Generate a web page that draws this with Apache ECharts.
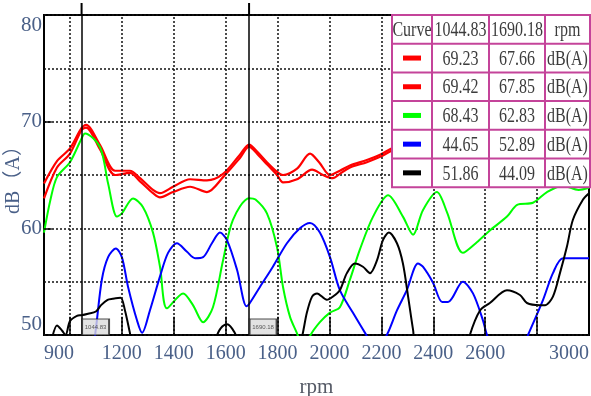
<!DOCTYPE html>
<html>
<head>
<meta charset="utf-8">
<title>rpm dB(A)</title>
<script src="https://cdn.jsdelivr.net/npm/echarts@6/dist/echarts.min.js"></script>
<style>
  html, body { margin: 0; padding: 0; background: #fff; }
  #chart { width: 591px; height: 396px; }
</style>
</head>
<body>
<div id="chart"></div>
<script>
// [rpm, dB(A)]
const redLow = [[900,62.8],[950,65.7],[1000,67.0],[1044.83,69.23],[1062,69.45],[1116,67.4],[1174,65.0],[1231,65.2],[1270,64.4],[1320,63.3],[1347,62.9],[1397,63.4],[1463,63.9],[1528,63.4],[1590,64.8],[1655,66.6],[1690.18,67.66],[1721,67.0],[1759,66.0],[1798,65.0],[1821,64.3],[1875,64.6],[1933,65.5],[1975,65.0],[2013,64.7],[2040,65.1],[2079,65.7],[2144,66.2],[2195,66.7],[2241,67.3],[2320,68.1]];
const redHigh = [[900,64.2],[950,66.3],[1000,67.5],[1044.83,69.42],[1062,69.7],[1116,67.8],[1174,65.4],[1231,65.4],[1270,64.7],[1320,63.6],[1347,63.3],[1397,63.9],[1463,64.6],[1528,64.5],[1590,65.1],[1655,66.9],[1690.18,67.85],[1721,67.2],[1759,66.2],[1798,65.3],[1821,65.0],[1875,65.6],[1925,67.0],[1960,66.2],[2002,65.0],[2040,65.4],[2079,65.9],[2144,66.4],[2195,66.9],[2241,67.5],[2320,68.3]];
const green = [[900,59.6],[925,62.7],[950,64.8],[1000,66.2],[1044.83,68.43],[1058,68.9],[1116,67.6],[1147,64.2],[1181,61.1],[1200,61.4],[1243,62.8],[1281,62.0],[1320,59.6],[1347,56.4],[1374,52.5],[1436,53.9],[1474,52.8],[1513,51.2],[1551,52.6],[1590,57.0],[1628,60.8],[1690.18,62.83],[1715,62.7],[1759,61.4],[1798,58.2],[1821,54.5],[1848,51.7],[1879,49.9],[1900,48.2],[1925,49.9],[1963,51.2],[2002,52.1],[2040,52.6],[2079,55.2],[2117,58.0],[2168,61.1],[2226,63.1],[2283,61.1],[2322,59.4],[2360,61.7],[2414,63.4],[2453,61.5],[2514,57.7],[2568,58.7],[2618,59.8],[2684,61.1],[2723,62.2],[2784,62.4],[2838,63.4],[2900,64.0],[2960,63.6],[3000,63.8]];
const blue = [[900,40.0],[1044.83,44.65],[1085,48.0],[1100,50.6],[1123,55.2],[1147,57.3],[1177,58.1],[1200,57.3],[1224,54.5],[1258,51.4],[1278,50.2],[1308,52.3],[1347,55.5],[1378,57.7],[1412,58.6],[1451,57.8],[1482,57.2],[1513,57.3],[1547,58.6],[1578,59.6],[1605,58.9],[1644,56.1],[1680,52.7],[1690.18,52.89],[1732,54.5],[1782,56.4],[1836,58.6],[1886,60.0],[1925,60.5],[1963,59.6],[2002,57.3],[2040,54.2],[2090,52.1],[2137,50.2],[2180,48.6],[2221,50.0],[2260,52.3],[2298,54.2],[2341,56.7],[2360,56.4],[2399,54.9],[2434,53.1],[2457,53.1],[2514,55.0],[2553,53.9],[2591,51.4],[2607,50.0],[2650,47.5],[2720,47.5],[2765,50.0],[2823,53.3],[2861,55.8],[2900,57.2],[3000,57.2]];
const black = [[900,46.0],[930,49.6],[950,50.9],[970,50.4],[983,50.0],[1000,51.3],[1027,51.8],[1044.83,51.86],[1070,52.0],[1100,52.2],[1120,52.8],[1145,53.3],[1165,53.4],[1195,53.5],[1212,52.3],[1231,50.2],[1260,47.0],[1500,46.0],[1560,49.6],[1580,50.6],[1605,51.0],[1625,50.6],[1645,49.6],[1690.18,44.09],[1850,46.0],[1894,49.8],[1913,52.1],[1933,53.6],[1952,53.9],[1990,53.3],[2013,53.6],[2040,54.2],[2067,55.8],[2098,56.7],[2129,56.4],[2156,55.8],[2183,57.0],[2206,58.9],[2229,59.6],[2260,58.6],[2283,56.7],[2303,53.6],[2322,50.5],[2340,48.0],[2500,46.0],[2541,50.0],[2580,52.3],[2618,53.0],[2684,54.2],[2734,53.75],[2761,53.0],[2811,52.8],[2830,52.8],[2861,53.6],[2888,55.8],[2915,58.3],[2938,60.8],[2977,62.7],[3000,63.3]];

const cursorRpm = [1044.83, 1690.18];
const xLabelValues = [900, 1200, 1400, 1600, 1800, 2000, 2200, 2400, 2600, 3000];
const xGridValues = [1000, 1200, 1400, 1600, 1800, 2000, 2200, 2400, 2600, 2800];
const yLabelValues = [50, 60, 70, 80];
const yTickValues = [60, 70];

// read-out table
const tableHeader = ['Curve', '1044.83', '1690.18', 'rpm'];
const tableAt1 = ['69.23', '69.42', '68.43', '44.65', '51.86'];
const tableAt2 = ['67.66', '67.85', '62.83', '52.89', '44.09'];
const tableUnit = 'dB(A)';
const curveColors = ['#ff0000', '#ff0000', '#00ff00', '#0000ff', '#000000'];

const labelFont = '"Liberation Serif", "Noto Sans CJK SC", serif';
const axisColor = '#4a6088';
const tableBorder = '#c4449a';

const myChart = echarts.init(document.getElementById('chart'));

function curve(data, color, width) {
  return {
    type: 'line',
    data: data,
    smooth: 0.3,
    showSymbol: false,
    clip: true,
    silent: true,
    lineStyle: { color: color, width: width },
    itemStyle: { color: color },
    z: 3,
  };
}

// table graphic
const colW = [40, 57, 56, 45];
const rowH = 28.7;
const tLeft = 392, tTop = 15;
const tableEls = [];
const totalW = colW.reduce((a, b) => a + b, 0);
const totalH = rowH * 6;
tableEls.push({
  type: 'rect',
  shape: { x: tLeft, y: tTop, width: totalW, height: totalH },
  style: { fill: '#fff', stroke: tableBorder, lineWidth: 2 },
  z: 100,
});
let cx = tLeft;
for (let c = 0; c < colW.length - 1; c++) {
  cx += colW[c];
  tableEls.push({
    type: 'line',
    shape: { x1: cx, y1: tTop, x2: cx, y2: tTop + totalH },
    style: { stroke: tableBorder, lineWidth: 2 },
    z: 101,
  });
}
for (let r = 1; r < 6; r++) {
  tableEls.push({
    type: 'line',
    shape: { x1: tLeft, y1: tTop + r * rowH, x2: tLeft + totalW, y2: tTop + r * rowH },
    style: { stroke: tableBorder, lineWidth: 2 },
    z: 101,
  });
}
function cellText(text, col, row) {
  let x = tLeft;
  for (let c = 0; c < col; c++) x += colW[c];
  x += colW[col] / 2;
  return {
    type: 'text',
    x: x,
    y: tTop + row * rowH + rowH / 2 + 1,
    scaleY: 1.35,
    z: 102,
    style: {
      text: text,
      font: '16px ' + labelFont,
      fill: '#3c3c3c',
      textAlign: 'center',
      textVerticalAlign: 'middle',
    },
  };
}
tableHeader.forEach((t, i) => tableEls.push(cellText(t, i, 0)));
for (let r = 0; r < 5; r++) {
  tableEls.push({
    type: 'rect',
    shape: { x: tLeft + colW[0] / 2 - 9, y: tTop + (r + 1) * rowH + rowH / 2 - 2.5, width: 18, height: 5 },
    style: { fill: curveColors[r] },
    z: 102,
  });
  tableEls.push(cellText(tableAt1[r], 1, r + 1));
  tableEls.push(cellText(tableAt2[r], 2, r + 1));
  tableEls.push(cellText(tableUnit, 3, r + 1));
}

const dotted = { color: '#111', width: 1.5, type: [2, 2] };
const solidTick = { color: '#000', width: 1.5, type: 'solid' };

const option = {
  animation: false,
  backgroundColor: '#fff',
  grid: {
    left: 44,
    right: 2,
    top: 15,
    bottom: 61,
    show: true,
    borderColor: '#000',
    borderWidth: 2,
    containLabel: false,
    outerBoundsMode: 'none',
  },
  xAxis: {
    type: 'value',
    min: 900,
    max: 3000,
    interval: 100,
    name: 'rpm',
    nameLocation: 'middle',
    nameGap: 42,
    nameMoveOverlap: false,
    nameTextStyle: { fontFamily: labelFont, fontSize: 21, color: '#555a66' },
    axisLine: { show: false },
    axisTick: { show: false },
    splitLine: { show: false },
    axisLabel: {
      margin: 9,
      fontFamily: labelFont,
      fontSize: 20,
      color: axisColor,
      alignMinLabel: 'left',
      alignMaxLabel: 'right',
      formatter: (v) => (xLabelValues.includes(v) ? String(v) : ''),
    },
  },
  yAxis: {
    type: 'value',
    min: 50,
    max: 80,
    interval: 5,
    name: 'dB（A）',
    nameLocation: 'middle',
    nameRotate: 90,
    nameGap: 20,
    nameMoveOverlap: false,
    nameTextStyle: { fontFamily: labelFont, fontSize: 20, color: axisColor },
    axisLine: { show: false },
    axisTick: { show: false },
    splitLine: { show: true, lineStyle: dotted },
    axisLabel: {
      margin: 2,
      fontFamily: labelFont,
      fontSize: 21,
      color: axisColor,
      verticalAlignMinLabel: 'bottom',
      verticalAlignMaxLabel: 'top',
      formatter: (v) => (yLabelValues.includes(v) ? String(v) : ''),
    },
  },
  graphic: tableEls,
  series: [
    curve(redLow, '#ff0000', 2.2),
    curve(redHigh, '#ff0000', 2.2),
    curve(green, '#00ff00', 2),
    curve(blue, '#0000ff', 2),
    curve(black, '#000000', 2),
    {
      type: 'scatter',
      clip: false,
      silent: true,
      z: 5,
      data: cursorRpm.map((v) => [v, 50]),
      symbol: 'rect',
      symbolSize: [27, 16],
      symbolOffset: [14, -8],
      itemStyle: { color: '#dcdcdc', borderColor: '#222', borderWidth: 1.5 },
      label: {
        show: true,
        position: 'inside',
        fontSize: 6,
        color: '#333',
        formatter: (p) => p.value[0].toFixed(2),
      },
      markLine: {
        silent: true,
        symbol: 'none',
        animation: false,
        label: { show: false },
        data: xGridValues
          .map((v) => ({ xAxis: v, lineStyle: dotted }))
          // solid tick stubs at the bottom and on the left
          .concat(xGridValues.map((v) => [{ coord: [v, 50], lineStyle: solidTick }, { coord: [v, 51.7] }]))
          .concat(yTickValues.map((v) => [{ coord: [900, v], lineStyle: solidTick }, { coord: [930, v] }]))
          .concat(
            cursorRpm.map((v) => ({
              xAxis: v,
              lineStyle: { color: '#000', width: 1.5, type: 'solid' },
            }))
          ),
      },
      // cursor stubs sticking out above the frame
      markPoint: {
        silent: true,
        animation: false,
        symbol: 'rect',
        symbolSize: [2, 12],
        symbolOffset: [0, -6],
        itemStyle: { color: '#000' },
        label: { show: false },
        data: cursorRpm.map((v) => ({ coord: [v, 80] })),
      },
    },
  ],
};

myChart.setOption(option);
</script>
</body>
</html>
